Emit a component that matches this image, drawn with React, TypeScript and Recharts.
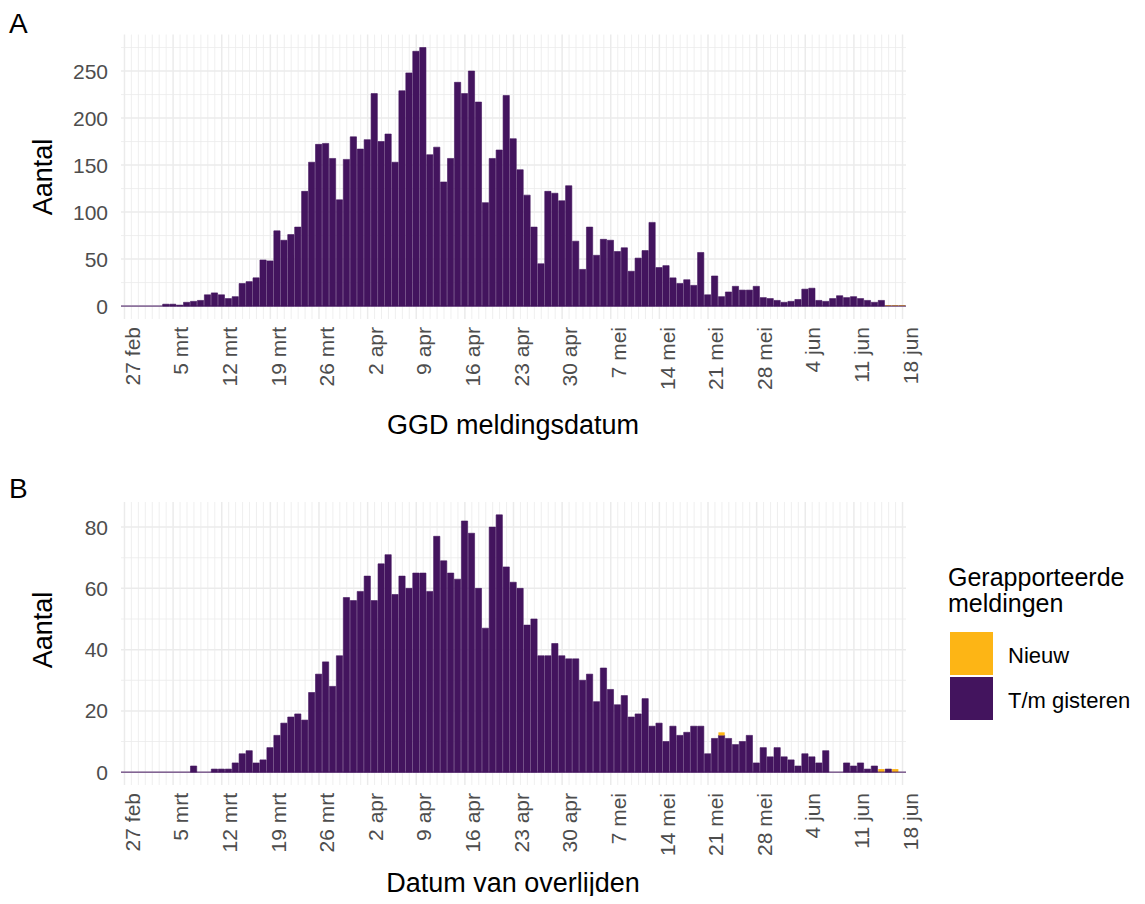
import React from "react";
import { BarChart, Bar, XAxis, YAxis, ReferenceLine, CartesianGrid } from "recharts";

const tickLabels = ["27 feb","5 mrt","12 mrt","19 mrt","26 mrt","2 apr","9 apr","16 apr","23 apr","30 apr","7 mei","14 mei","21 mei","28 mei","4 jun","11 jun","18 jun"];

const aPrev = [0,0,0,0,0,0,2,2,1,4,5,6,12,14,12,8,10,24,26,30,49,48,80,70,76,84,122,153,172,173,157,113,156,180,167,177,226,175,183,153,229,248,271,275,161,169,132,157,238,226,250,217,110,157,166,224,178,145,118,84,45,122,120,112,128,69,39,84,54,71,70,58,62,37,51,59,89,41,43,30,24,28,22,57,12,32,10,15,21,17,17,21,9,8,6,4,5,7,18,19,6,5,8,11,9,10,8,6,4,6,0,0,0];
const aNewIdx = [110, 111, 112];
const aNewVal = [1, 1, 1];

const bPrev = [0,0,0,0,0,0,0,0,0,0,2,0,0,1,1,1,3,6,7,3,4,8,12,16,18,19,17,26,32,36,28,38,57,56,59,64,56,68,71,58,64,60,65,65,59,77,69,65,63,82,78,60,47,80,84,67,62,60,48,50,38,38,42,38,37,37,30,32,23,34,27,22,25,18,19,24,15,16,10,15,12,13,15,15,6,11,12,11,9,10,12,3,8,5,8,5,4,2,6,5,3,7,0,0,3,2,3,1,2,0,1,0,0];
const bNewIdx = [86, 109, 111];
const bNewVal = [1, 1, 1];

const PURPLE = "#43145E";
const ORANGE = "#FDB515";
const GRID = "#EBEBEB";
const FONT = "'Liberation Sans', Arial, sans-serif";

function build(prev: number[], idx: number[], vals: number[]) {
  return prev.map((v, d) => {
    const k = idx.indexOf(d);
    return { d, prev: v, nieuw: k >= 0 ? vals[k] : 0 };
  });
}
const aData = build(aPrev, aNewIdx, aNewVal);
const bData = build(bPrev, bNewIdx, bNewVal);

const X_DOMAIN: [number, number] = [-0.5, 112.5];
const days = Array.from({ length: 113 }, (_, i) => i);
const xTicks = tickLabels.map((_, i) => i * 7);

function XTick(labelTop: number) {
  return (props: any) => {
    const { x, payload } = props;
    const lab = tickLabels[Math.round(payload.value / 7)];
    return (
      <text x={x} y={labelTop} transform={`rotate(-90, ${x}, ${labelTop})`} textAnchor="end" dominantBaseline="hanging" fontSize={21} fill="#4D4D4D" fontFamily={FONT}>{lab}</text>
    );
  };
}
const YTick = (props: any) => {
  const { y, payload } = props;
  return <text x={108} y={y} textAnchor="end" dominantBaseline="central" fontSize={21} fill="#4D4D4D" fontFamily={FONT}>{payload.value}</text>;
};

function mapX(values: number[]) {
  return (args: any) => {
    const off = args.offset;
    return values.map((v) => off.left + ((v - X_DOMAIN[0]) / (X_DOMAIN[1] - X_DOMAIN[0])) * off.width);
  };
}
function mapY(values: number[], domain: [number, number]) {
  return (args: any) => {
    const off = args.offset;
    return values.map((v) => off.top + off.height - ((v - domain[0]) / (domain[1] - domain[0])) * off.height);
  };
}

function Panel(p: { data: any[]; height: number; top: number; xh: number; domain: [number, number]; major: number[]; minor: number[]; labelTop: number }) {
  const minorDays = days.filter((d) => d % 7 !== 0);
  const majorDays = days.filter((d) => d % 7 === 0);
  return (
    <BarChart width={1145} height={p.height} data={p.data} margin={{ top: p.top, right: 239, left: 0, bottom: 0 }} barGap={0}>
      <CartesianGrid stroke={GRID} strokeWidth={0.8} verticalCoordinatesGenerator={mapX(minorDays)} horizontalCoordinatesGenerator={mapY(p.minor, p.domain)} />
      <CartesianGrid stroke={GRID} strokeWidth={1.5} verticalCoordinatesGenerator={mapX(majorDays)} horizontalCoordinatesGenerator={mapY(p.major, p.domain)} />
      <XAxis dataKey="d" type="number" domain={X_DOMAIN} ticks={xTicks} interval={0} axisLine={false} tickLine={false} height={p.xh} tick={XTick(p.labelTop)} allowDataOverflow />
      <YAxis type="number" domain={p.domain} ticks={p.major} interval={0} axisLine={false} tickLine={false} width={121} tick={YTick} allowDataOverflow />
      <Bar dataKey="prev" stackId="s" fill={PURPLE} stroke={PURPLE} strokeWidth={0.6} barSize={7.4} isAnimationActive={false} />
      <Bar dataKey="nieuw" stackId="s" fill={ORANGE} barSize={7.4} isAnimationActive={false} />
      <ReferenceLine y={0} stroke={PURPLE} strokeWidth={1} segment={[{ x: -0.5, y: 0 }, { x: 112.5, y: 0 }]} />
    </BarChart>
  );
}

export default function App() {
  return (
    <div style={{ position: "relative", width: 1145, height: 904, margin: -8, background: "#fff", fontFamily: FONT }}>
      <div style={{ position: "absolute", left: 0, top: 0 }}>
        <Panel data={aData} height={450} top={34.6} xh={131} domain={[-13.75, 288.75]} major={[0, 50, 100, 150, 200, 250]} minor={[25, 75, 125, 175, 225, 275]} labelTop={327} />
      </div>
      <div style={{ position: "absolute", left: 0, top: 450 }}>
        <Panel data={bData} height={454} top={52} xh={119} domain={[-4.2, 88.2]} major={[0, 20, 40, 60, 80]} minor={[10, 30, 50, 70]} labelTop={343} />
      </div>
      <svg width={1145} height={904} style={{ position: "absolute", left: 0, top: 0, pointerEvents: "none" }} fontFamily={FONT}>
        <text x={9} y={33} fontSize={28} fill="#000">A</text>
        <text x={9} y={498} fontSize={28} fill="#000">B</text>
        <text x={0} y={0} transform="translate(52,177) rotate(-90)" textAnchor="middle" fontSize={27} fill="#000">Aantal</text>
        <text x={0} y={0} transform="translate(52,630) rotate(-90)" textAnchor="middle" fontSize={27} fill="#000">Aantal</text>
        <text x={513} y={434} textAnchor="middle" fontSize={27} fill="#000">GGD meldingsdatum</text>
        <text x={513} y={892} textAnchor="middle" fontSize={27} fill="#000">Datum van overlijden</text>
        <text x={948} y={586} fontSize={25} fill="#000">Gerapporteerde</text>
        <text x={948} y={612} fontSize={25} fill="#000">meldingen</text>
        <rect x={950} y={632} width={43} height={43} fill={ORANGE} />
        <rect x={950} y={677} width={43} height={43} fill={PURPLE} />
        <text x={1008} y={655} dominantBaseline="central" fontSize={22} fill="#000">Nieuw</text>
        <text x={1008} y={700} dominantBaseline="central" fontSize={22} fill="#000">T/m gisteren</text>
      </svg>
    </div>
  );
}
